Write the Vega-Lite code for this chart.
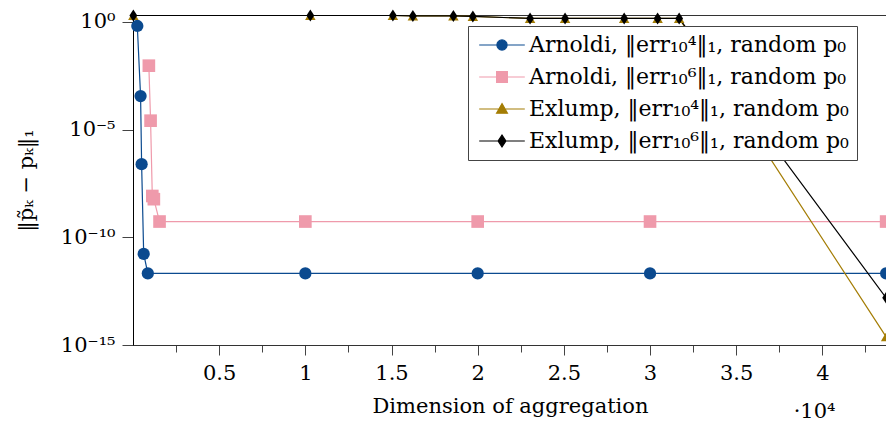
{
  "$schema": "https://vega.github.io/schema/vega-lite/v6.json",
  "autosize": {"type": "none"},
  "width": 754,
  "height": 330,
  "padding": {"left": 133, "top": 15, "right": 0, "bottom": 79},
  "background": "white",
  "config": {
    "view": {"stroke": "#333", "strokeWidth": 1},
    "font": "DejaVu Serif"
  },
  "title": {"text": "·10⁴", "orient": "bottom", "anchor": "end", "font": "DejaVu Serif", "fontSize": 21, "fontWeight": "normal", "dx": -57, "dy": -19, "color": "black"},
  "data": {
    "values": [
      {"series": "Arnoldi, ‖err₁₀⁴‖₁, random p₀", "x": 250, "y": 0.65},
      {"series": "Arnoldi, ‖err₁₀⁴‖₁, random p₀", "x": 440, "y": 3.6e-4},
      {"series": "Arnoldi, ‖err₁₀⁴‖₁, random p₀", "x": 500, "y": 2.5e-7},
      {"series": "Arnoldi, ‖err₁₀⁴‖₁, random p₀", "x": 620, "y": 1.7e-11},
      {"series": "Arnoldi, ‖err₁₀⁴‖₁, random p₀", "x": 860, "y": 2.1e-12},
      {"series": "Arnoldi, ‖err₁₀⁴‖₁, random p₀", "x": 10000, "y": 2.1e-12},
      {"series": "Arnoldi, ‖err₁₀⁴‖₁, random p₀", "x": 20000, "y": 2.1e-12},
      {"series": "Arnoldi, ‖err₁₀⁴‖₁, random p₀", "x": 30000, "y": 2.1e-12},
      {"series": "Arnoldi, ‖err₁₀⁴‖₁, random p₀", "x": 43700, "y": 2.1e-12},
      {"series": "Arnoldi, ‖err₁₀⁶‖₁, random p₀", "x": 920, "y": 9.3e-3},
      {"series": "Arnoldi, ‖err₁₀⁶‖₁, random p₀", "x": 1020, "y": 2.6e-5},
      {"series": "Arnoldi, ‖err₁₀⁶‖₁, random p₀", "x": 1120, "y": 8.3e-9},
      {"series": "Arnoldi, ‖err₁₀⁶‖₁, random p₀", "x": 1210, "y": 5.9e-9},
      {"series": "Arnoldi, ‖err₁₀⁶‖₁, random p₀", "x": 1540, "y": 5.4e-10},
      {"series": "Arnoldi, ‖err₁₀⁶‖₁, random p₀", "x": 10000, "y": 5.4e-10},
      {"series": "Arnoldi, ‖err₁₀⁶‖₁, random p₀", "x": 20000, "y": 5.4e-10},
      {"series": "Arnoldi, ‖err₁₀⁶‖₁, random p₀", "x": 30000, "y": 5.4e-10},
      {"series": "Arnoldi, ‖err₁₀⁶‖₁, random p₀", "x": 43700, "y": 5.4e-10},
      {"series": "Exlump, ‖err₁₀⁴‖₁, random p₀", "x": 20, "y": 2.0},
      {"series": "Exlump, ‖err₁₀⁴‖₁, random p₀", "x": 10290, "y": 2.0},
      {"series": "Exlump, ‖err₁₀⁴‖₁, random p₀", "x": 15080, "y": 2.0},
      {"series": "Exlump, ‖err₁₀⁴‖₁, random p₀", "x": 16240, "y": 1.9},
      {"series": "Exlump, ‖err₁₀⁴‖₁, random p₀", "x": 18590, "y": 1.9},
      {"series": "Exlump, ‖err₁₀⁴‖₁, random p₀", "x": 19720, "y": 1.8},
      {"series": "Exlump, ‖err₁₀⁴‖₁, random p₀", "x": 23040, "y": 1.45},
      {"series": "Exlump, ‖err₁₀⁴‖₁, random p₀", "x": 25070, "y": 1.45},
      {"series": "Exlump, ‖err₁₀⁴‖₁, random p₀", "x": 28500, "y": 1.45},
      {"series": "Exlump, ‖err₁₀⁴‖₁, random p₀", "x": 30440, "y": 1.45},
      {"series": "Exlump, ‖err₁₀⁴‖₁, random p₀", "x": 31690, "y": 1.45},
      {"series": "Exlump, ‖err₁₀⁴‖₁, random p₀", "x": 43700, "y": 2.4e-15},
      {"series": "Exlump, ‖err₁₀⁶‖₁, random p₀", "x": 20, "y": 2.0},
      {"series": "Exlump, ‖err₁₀⁶‖₁, random p₀", "x": 10290, "y": 2.0},
      {"series": "Exlump, ‖err₁₀⁶‖₁, random p₀", "x": 15080, "y": 2.0},
      {"series": "Exlump, ‖err₁₀⁶‖₁, random p₀", "x": 16240, "y": 1.9},
      {"series": "Exlump, ‖err₁₀⁶‖₁, random p₀", "x": 18590, "y": 1.9},
      {"series": "Exlump, ‖err₁₀⁶‖₁, random p₀", "x": 19720, "y": 1.8},
      {"series": "Exlump, ‖err₁₀⁶‖₁, random p₀", "x": 23040, "y": 1.45},
      {"series": "Exlump, ‖err₁₀⁶‖₁, random p₀", "x": 25070, "y": 1.45},
      {"series": "Exlump, ‖err₁₀⁶‖₁, random p₀", "x": 28500, "y": 1.45},
      {"series": "Exlump, ‖err₁₀⁶‖₁, random p₀", "x": 30440, "y": 1.45},
      {"series": "Exlump, ‖err₁₀⁶‖₁, random p₀", "x": 31690, "y": 1.45},
      {"series": "Exlump, ‖err₁₀⁶‖₁, random p₀", "x": 43700, "y": 1.55e-13}
    ]
  },
  "encoding": {
    "x": {
      "field": "x", "type": "quantitative",
      "scale": {"domain": [0, 43750], "nice": false, "zero": false},
      "axis": {
        "values": [2500, 5000, 7500, 10000, 12500, 15000, 17500, 20000, 22500, 25000, 27500, 30000, 32500, 35000, 37500, 40000, 42500],
        "labelExpr": "datum.value % 5000 === 0 ? '' + (datum.value / 10000) : ''",
        "grid": false,
        "domainColor": "#333",
        "tickColor": "#444",
        "tickSize": {"condition": {"test": "datum.value % 5000 === 0", "value": 10}, "value": 7},
        "labelFont": "DejaVu Serif", "labelFontSize": 21, "labelColor": "black",
        "labelPadding": 7, "labelOverlap": false, "labelFlush": false,
        "title": "Dimension of aggregation",
        "titleFont": "DejaVu Serif", "titleFontSize": 21, "titleFontWeight": "normal", "titleColor": "black",
        "titlePadding": 12
      }
    },
    "y": {
      "field": "y", "type": "quantitative",
      "scale": {"type": "log", "domain": [1e-15, 2.1], "nice": false},
      "axis": {
        "values": [1e-15, 1e-10, 1e-5, 1],
        "labelExpr": "datum.value >= 0.5 ? '10⁰' : datum.value > 1e-6 ? '10⁻⁵' : datum.value > 1e-11 ? '10⁻¹⁰' : '10⁻¹⁵'",
        "grid": false,
        "domainColor": "black",
        "tickColor": "#444",
        "tickSize": 11,
        "labelFont": "DejaVu Serif", "labelFontSize": 21, "labelColor": "black",
        "labelPadding": 7,
        "title": "‖p̃ₖ − pₖ‖₁",
        "titleFont": "DejaVu Serif", "titleFontSize": 21, "titleFontWeight": "normal", "titleColor": "black",
        "titlePadding": 24
      }
    },
    "color": {
      "field": "series", "type": "nominal",
      "scale": {
        "domain": ["Arnoldi, ‖err₁₀⁴‖₁, random p₀", "Arnoldi, ‖err₁₀⁶‖₁, random p₀", "Exlump, ‖err₁₀⁴‖₁, random p₀", "Exlump, ‖err₁₀⁶‖₁, random p₀"],
        "range": ["#0b4a8f", "#ef9aab", "#a47d05", "#000000"]
      },
      "legend": {
        "orient": "none", "legendX": 335, "legendY": 11,
        "title": null,
        "labelFont": "DejaVu Serif", "labelFontSize": 22, "labelColor": "black", "labelLimit": 1000,
        "symbolSize": 144, "symbolOffset": 15, "labelOffset": 16,
        "padding": 8, "rowPadding": 10,
        "strokeColor": "#444", "fillColor": "white",
        "encode": {
          "symbols": {
            "update": {
              "shape": {"signal": "indexof(domain('color'), datum.value) === 0 ? 'M-3.8,0H3.8M-0.85,0A0.85,0.85 0 1,0 0.85,0A0.85,0.85 0 1,0 -0.85,0Z' : indexof(domain('color'), datum.value) === 1 ? 'M-3.8,0H3.8M-0.9,-0.9H0.9V0.9H-0.9Z' : indexof(domain('color'), datum.value) === 2 ? 'M-3.8,0H3.8M0,-0.9L0.9,0.7H-0.9Z' : 'M-3.8,0H3.8M0,-1L0.65,0L0,1L-0.65,0Z'"},
              "fill": {"signal": "scale('color', datum.value)"},
              "stroke": {"signal": "scale('color', datum.value)"},
              "strokeWidth": {"value": 1.2},
              "opacity": {"value": 1}
            }
          }
        }
      }
    }
  },
  "layer": [
    {
      "mark": {"type": "line", "strokeWidth": 1.2, "clip": true}
    },
    {
      "transform": [{"filter": "datum.series === 'Arnoldi, ‖err₁₀⁴‖₁, random p₀'"}],
      "mark": {"type": "point", "filled": true, "opacity": 1, "shape": "circle", "size": 150}
    },
    {
      "transform": [{"filter": "datum.series === 'Arnoldi, ‖err₁₀⁶‖₁, random p₀'"}],
      "mark": {"type": "point", "filled": true, "opacity": 1, "shape": "square", "size": 160}
    },
    {
      "transform": [{"filter": "datum.series === 'Exlump, ‖err₁₀⁴‖₁, random p₀'"}],
      "mark": {"type": "point", "filled": true, "opacity": 1, "shape": "triangle-up", "size": 110}
    },
    {
      "transform": [{"filter": "datum.series === 'Exlump, ‖err₁₀⁶‖₁, random p₀'"}],
      "mark": {"type": "point", "filled": true, "opacity": 1, "shape": "M0,-1L0.65,0L0,1L-0.65,0Z", "size": 144}
    }
  ]
}
